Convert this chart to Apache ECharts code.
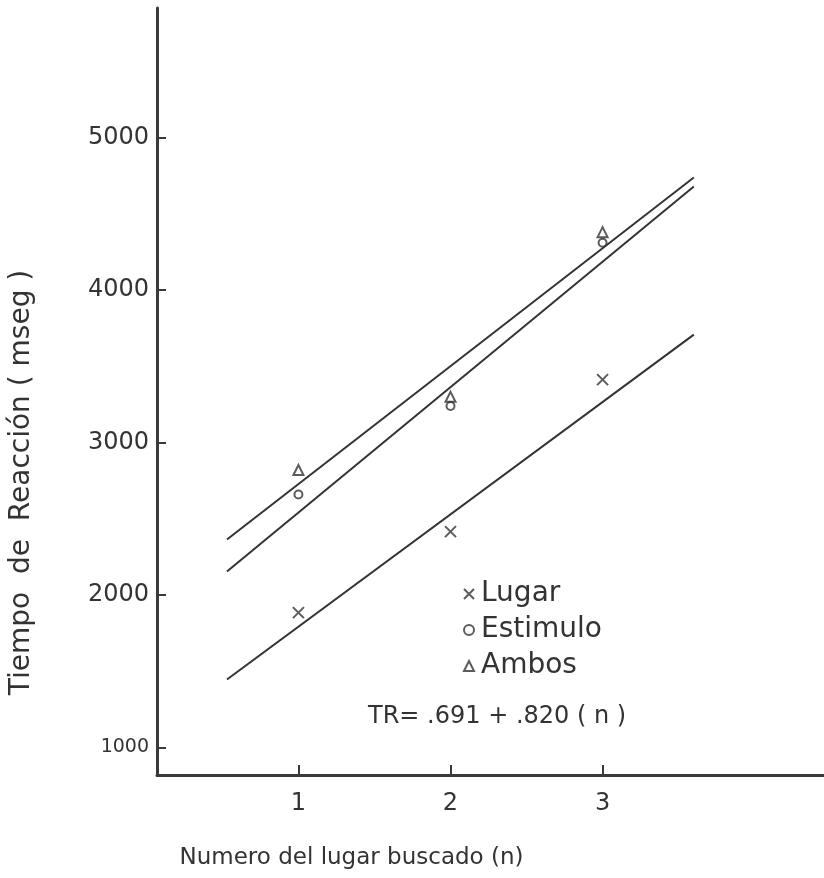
<!DOCTYPE html>
<html>
<head>
<meta charset="utf-8">
<script src="https://cdn.jsdelivr.net/npm/echarts@6/dist/echarts.min.js"></script>
<style>
  html, body { margin: 0; padding: 0; background: #fff; }
  #chart { width: 824px; height: 878px; }
</style>
</head>
<body>
<div id="chart"></div>
<script>
// valores
var xTicks = [1, 2, 3];
var yTicks = [1000, 2000, 3000, 4000, 5000];
var nLugar = [1, 2, 3];
var lugar = [1885, 2416, 3413];
var estimulo = [2660, 3240, 4310];
var ambos = [2820, 3300, 4380];
// rectas ajustadas (extremos)
var fitX = [0.53, 3.6];
var fitLugar = [1446, 3708];
var fitEstimulo = [2154, 4679];
var fitAmbos = [2364, 4738];

var ink = "#333";
var font = "DejaVu Sans";

function pares(xs, ys) {
  return xs.map(function (x, i) { return [x, ys[i]]; });
}

var myChart = echarts.init(document.getElementById("chart"));

function recta(ys) {
  return {
    type: "line",
    data: pares(fitX, ys),
    showSymbol: false,
    silent: true,
    lineStyle: { color: ink, width: 2 },
    z: 2
  };
}

function puntos(nombre, ys, simbolo, size) {
  return {
    name: nombre,
    type: "scatter",
    data: pares(nLugar, ys),
    symbol: simbolo,
    symbolSize: size,
    itemStyle: { color: "rgba(0,0,0,0)", borderColor: ink, borderWidth: 2 },
    z: 3
  };
}

myChart.setOption({
  animation: false,
  backgroundColor: "#fff",
  textStyle: { fontFamily: font, color: ink },
  grid: { left: 155, right: 0, top: 8, bottom: 103, containLabel: false },
  legend: {
    orient: "vertical",
    left: 458,
    top: 575,
    itemGap: 8,
    itemWidth: 10,
    itemHeight: 10,
    data: ["Lugar", "Estimulo", "Ambos"],
    textStyle: { fontSize: 28, color: ink, fontFamily: font, padding: [0, 0, 0, 2] }
  },
  graphic: [
    {
      type: "text",
      left: 368,
      top: 705,
      style: { text: "TR= .691 + .820 ( n )", fontSize: 24, fill: ink, fontFamily: font }
    }
  ],
  xAxis: {
    type: "value",
    min: 0.07,
    max: 4.456,
    name: "Numero del lugar buscado (n)",
    nameLocation: "middle",
    nameGap: 72,
    nameTextStyle: { fontSize: 23, color: ink, fontFamily: font, padding: [0, 278, 0, 0] },
    axisLine: { lineStyle: { color: "#3a3a3a", width: 3 } },
    axisTick: { inside: true, length: 10, customValues: xTicks, lineStyle: { color: "#3a3a3a", width: 2 } },
    axisLabel: { customValues: xTicks, margin: 17, fontSize: 24, color: ink },
    splitLine: { show: false }
  },
  yAxis: {
    type: "value",
    min: 820,
    max: 5850,
    name: "Tiempo  de  Reacción ( mseg )",
    nameLocation: "middle",
    nameGap: 121,
    nameTextStyle: { fontSize: 28, color: ink, fontFamily: font, padding: [0, 182, 0, 0] },
    axisLine: { lineStyle: { color: "#3a3a3a", width: 3 } },
    axisTick: { inside: true, length: 9, customValues: yTicks, lineStyle: { color: "#3a3a3a", width: 2 } },
    axisLabel: {
      customValues: yTicks,
      margin: 8,
      fontSize: 24,
      color: ink,
      formatter: function (v) { return v === 1000 ? "{s|1000}" : String(v); },
      rich: { s: { fontSize: 19, color: ink } }
    },
    splitLine: { show: false }
  },
  series: [
    recta(fitAmbos),
    recta(fitEstimulo),
    recta(fitLugar),
    puntos("Lugar", lugar, "path://M0,0L10,10M10,0L0,10", 11),
    puntos("Estimulo", estimulo, "circle", 8),
    puntos("Ambos", ambos, "triangle", 10)
  ]
});
</script>
</body>
</html>
